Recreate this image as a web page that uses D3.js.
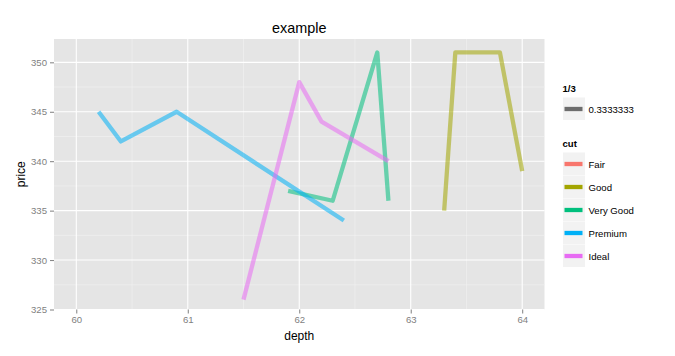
<!DOCTYPE html>
<html>
<head>
<meta charset="utf-8">
<script src="https://cdn.jsdelivr.net/npm/d3@7"></script>
<style>
  body { margin: 0; background: #fff; }
  svg { font-family: "Liberation Sans", Arial, sans-serif; display: block; }
</style>
</head>
<body>
<svg width="675" height="356"></svg>
<script>
// values (diamonds rows, depth within 60..64)
var cuts = ["Fair", "Good", "Very Good", "Premium", "Ideal"];
var cutColors = ["#F8766D", "#A3A500", "#00BF7D", "#00B0F6", "#E76BF3"];

var fairDepth = [];
var fairPrice = [];
var goodDepth = [63.3, 63.4, 63.8, 64.0];
var goodPrice = [335, 351, 351, 339];
var veryGoodDepth = [61.9, 62.3, 62.7, 62.8];
var veryGoodPrice = [337, 336, 351, 336];
var premiumDepth = [60.2, 60.4, 60.9, 62.4];
var premiumPrice = [345, 342, 345, 334];
var idealDepth = [61.5, 62.0, 62.2, 62.8];
var idealPrice = [326, 348, 344, 340];

var xTicks = [60, 61, 62, 63, 64];
var yTicks = [325, 330, 335, 340, 345, 350];

var alphaLabel = "0.3333333";

var series = [
  {cut: "Fair", depth: fairDepth, price: fairPrice},
  {cut: "Good", depth: goodDepth, price: goodPrice},
  {cut: "Very Good", depth: veryGoodDepth, price: veryGoodPrice},
  {cut: "Premium", depth: premiumDepth, price: premiumPrice},
  {cut: "Ideal", depth: idealDepth, price: idealPrice}
];

var svg = d3.select("svg");
var panel = {left: 54, right: 544.5, top: 39, bottom: 309.5};

var x = d3.scaleLinear().domain([59.8, 64.2]).range([panel.left, panel.right]);
var y = d3.scaleLinear().domain([325, 352.36]).range([panel.bottom, panel.top]);
var color = d3.scaleOrdinal().domain(cuts).range(cutColors);

// panel background
svg.append("rect")
  .attr("x", panel.left).attr("y", panel.top)
  .attr("width", panel.right - panel.left)
  .attr("height", panel.bottom - panel.top)
  .attr("fill", "#E5E5E5");

// minor grid
var xMinor = xTicks.slice(0, -1).map(function(d) { return d + 0.5; });
var yMinor = yTicks.slice(0, -1).map(function(d) { return d + 2.5; });
var grid = svg.append("g");
grid.selectAll(".xminor").data(xMinor).enter().append("line")
  .attr("x1", d => x(d)).attr("x2", d => x(d))
  .attr("y1", panel.top).attr("y2", panel.bottom)
  .attr("stroke", "#F2F2F2").attr("stroke-width", 0.6);
grid.selectAll(".yminor").data(yMinor).enter().append("line")
  .attr("y1", d => y(d)).attr("y2", d => y(d))
  .attr("x1", panel.left).attr("x2", panel.right)
  .attr("stroke", "#F2F2F2").attr("stroke-width", 0.6);
// major grid
grid.selectAll(".xmajor").data(xTicks).enter().append("line")
  .attr("x1", d => x(d)).attr("x2", d => x(d))
  .attr("y1", panel.top).attr("y2", panel.bottom)
  .attr("stroke", "#fff").attr("stroke-width", 1.1);
grid.selectAll(".ymajor").data(yTicks).enter().append("line")
  .attr("y1", d => y(d)).attr("y2", d => y(d))
  .attr("x1", panel.left).attr("x2", panel.right)
  .attr("stroke", "#fff").attr("stroke-width", 1.1);

// lines
var line = d3.line()
  .x(function(d) { return x(d[0]); })
  .y(function(d) { return y(d[1]); });

svg.append("g").selectAll("path")
  .data(series)
  .enter().append("path")
  .attr("d", function(s) { return line(d3.zip(s.depth, s.price)); })
  .attr("fill", "none")
  .attr("stroke", function(s) { return color(s.cut); })
  .attr("stroke-opacity", 0.55)
  .attr("stroke-width", 4.3)
  .attr("stroke-linejoin", "round")
  .attr("stroke-linecap", "butt");

// axes
var xAxis = svg.append("g")
  .attr("transform", "translate(0," + panel.bottom + ")")
  .call(d3.axisBottom(x).tickValues(xTicks).tickSize(4).tickPadding(3).tickFormat(d3.format("d")));
var yAxis = svg.append("g")
  .attr("transform", "translate(" + panel.left + ",0)")
  .call(d3.axisLeft(y).tickValues(yTicks).tickSize(4).tickPadding(3).tickFormat(d3.format("d")));

[xAxis, yAxis].forEach(function(a) {
  a.select(".domain").remove();
  a.selectAll(".tick line").attr("stroke", "#7F7F7F");
  a.selectAll(".tick text")
    .attr("fill", "#7F7F7F")
    .style("font-size", "9.6px")
    .style("font-family", "Liberation Sans, Arial, sans-serif");
});

// titles
svg.append("text")
  .attr("x", (panel.left + panel.right) / 2).attr("y", 33)
  .attr("text-anchor", "middle")
  .style("font-size", "14.4px")
  .text("example");

svg.append("text")
  .attr("x", (panel.left + panel.right) / 2).attr("y", 340)
  .attr("text-anchor", "middle")
  .style("font-size", "12px")
  .text("depth");

svg.append("text")
  .attr("transform", "translate(25," + ((panel.top + panel.bottom) / 2) + ") rotate(-90)")
  .attr("text-anchor", "middle")
  .style("font-size", "12px")
  .text("price");

// legends
var lg = svg.append("g").attr("transform", "translate(563,0)");

lg.append("text").attr("x", -0.5).attr("y", 92)
  .style("font-size", "9.6px").style("font-weight", "bold")
  .text("1/3");
lg.append("rect").attr("x", 0).attr("y", 97.5).attr("width", 22).attr("height", 22.5)
  .attr("fill", "#F2F2F2");
lg.append("line").attr("x1", 1.5).attr("x2", 19.5).attr("y1", 109).attr("y2", 109)
  .attr("stroke", "#000").attr("stroke-opacity", 0.55).attr("stroke-width", 4.3);
lg.append("text").attr("x", 25.5).attr("y", 112.5)
  .style("font-size", "9.6px")
  .text(alphaLabel);

lg.append("text").attr("x", -0.5).attr("y", 147)
  .style("font-size", "9.6px").style("font-weight", "bold")
  .text("cut");

var keys = lg.selectAll(".key")
  .data(cuts)
  .enter().append("g")
  .attr("transform", function(d, i) { return "translate(0," + (152.5 + i * 23) + ")"; });
keys.append("rect").attr("width", 22).attr("height", 22.5).attr("fill", "#F2F2F2");
keys.append("line").attr("x1", 1.5).attr("x2", 19.5).attr("y1", 11.5).attr("y2", 11.5)
  .attr("stroke", d => color(d)).attr("stroke-width", 4.3);
keys.append("text").attr("x", 25.5).attr("y", 15)
  .style("font-size", "9.6px")
  .text(d => d);
</script>
</body>
</html>
